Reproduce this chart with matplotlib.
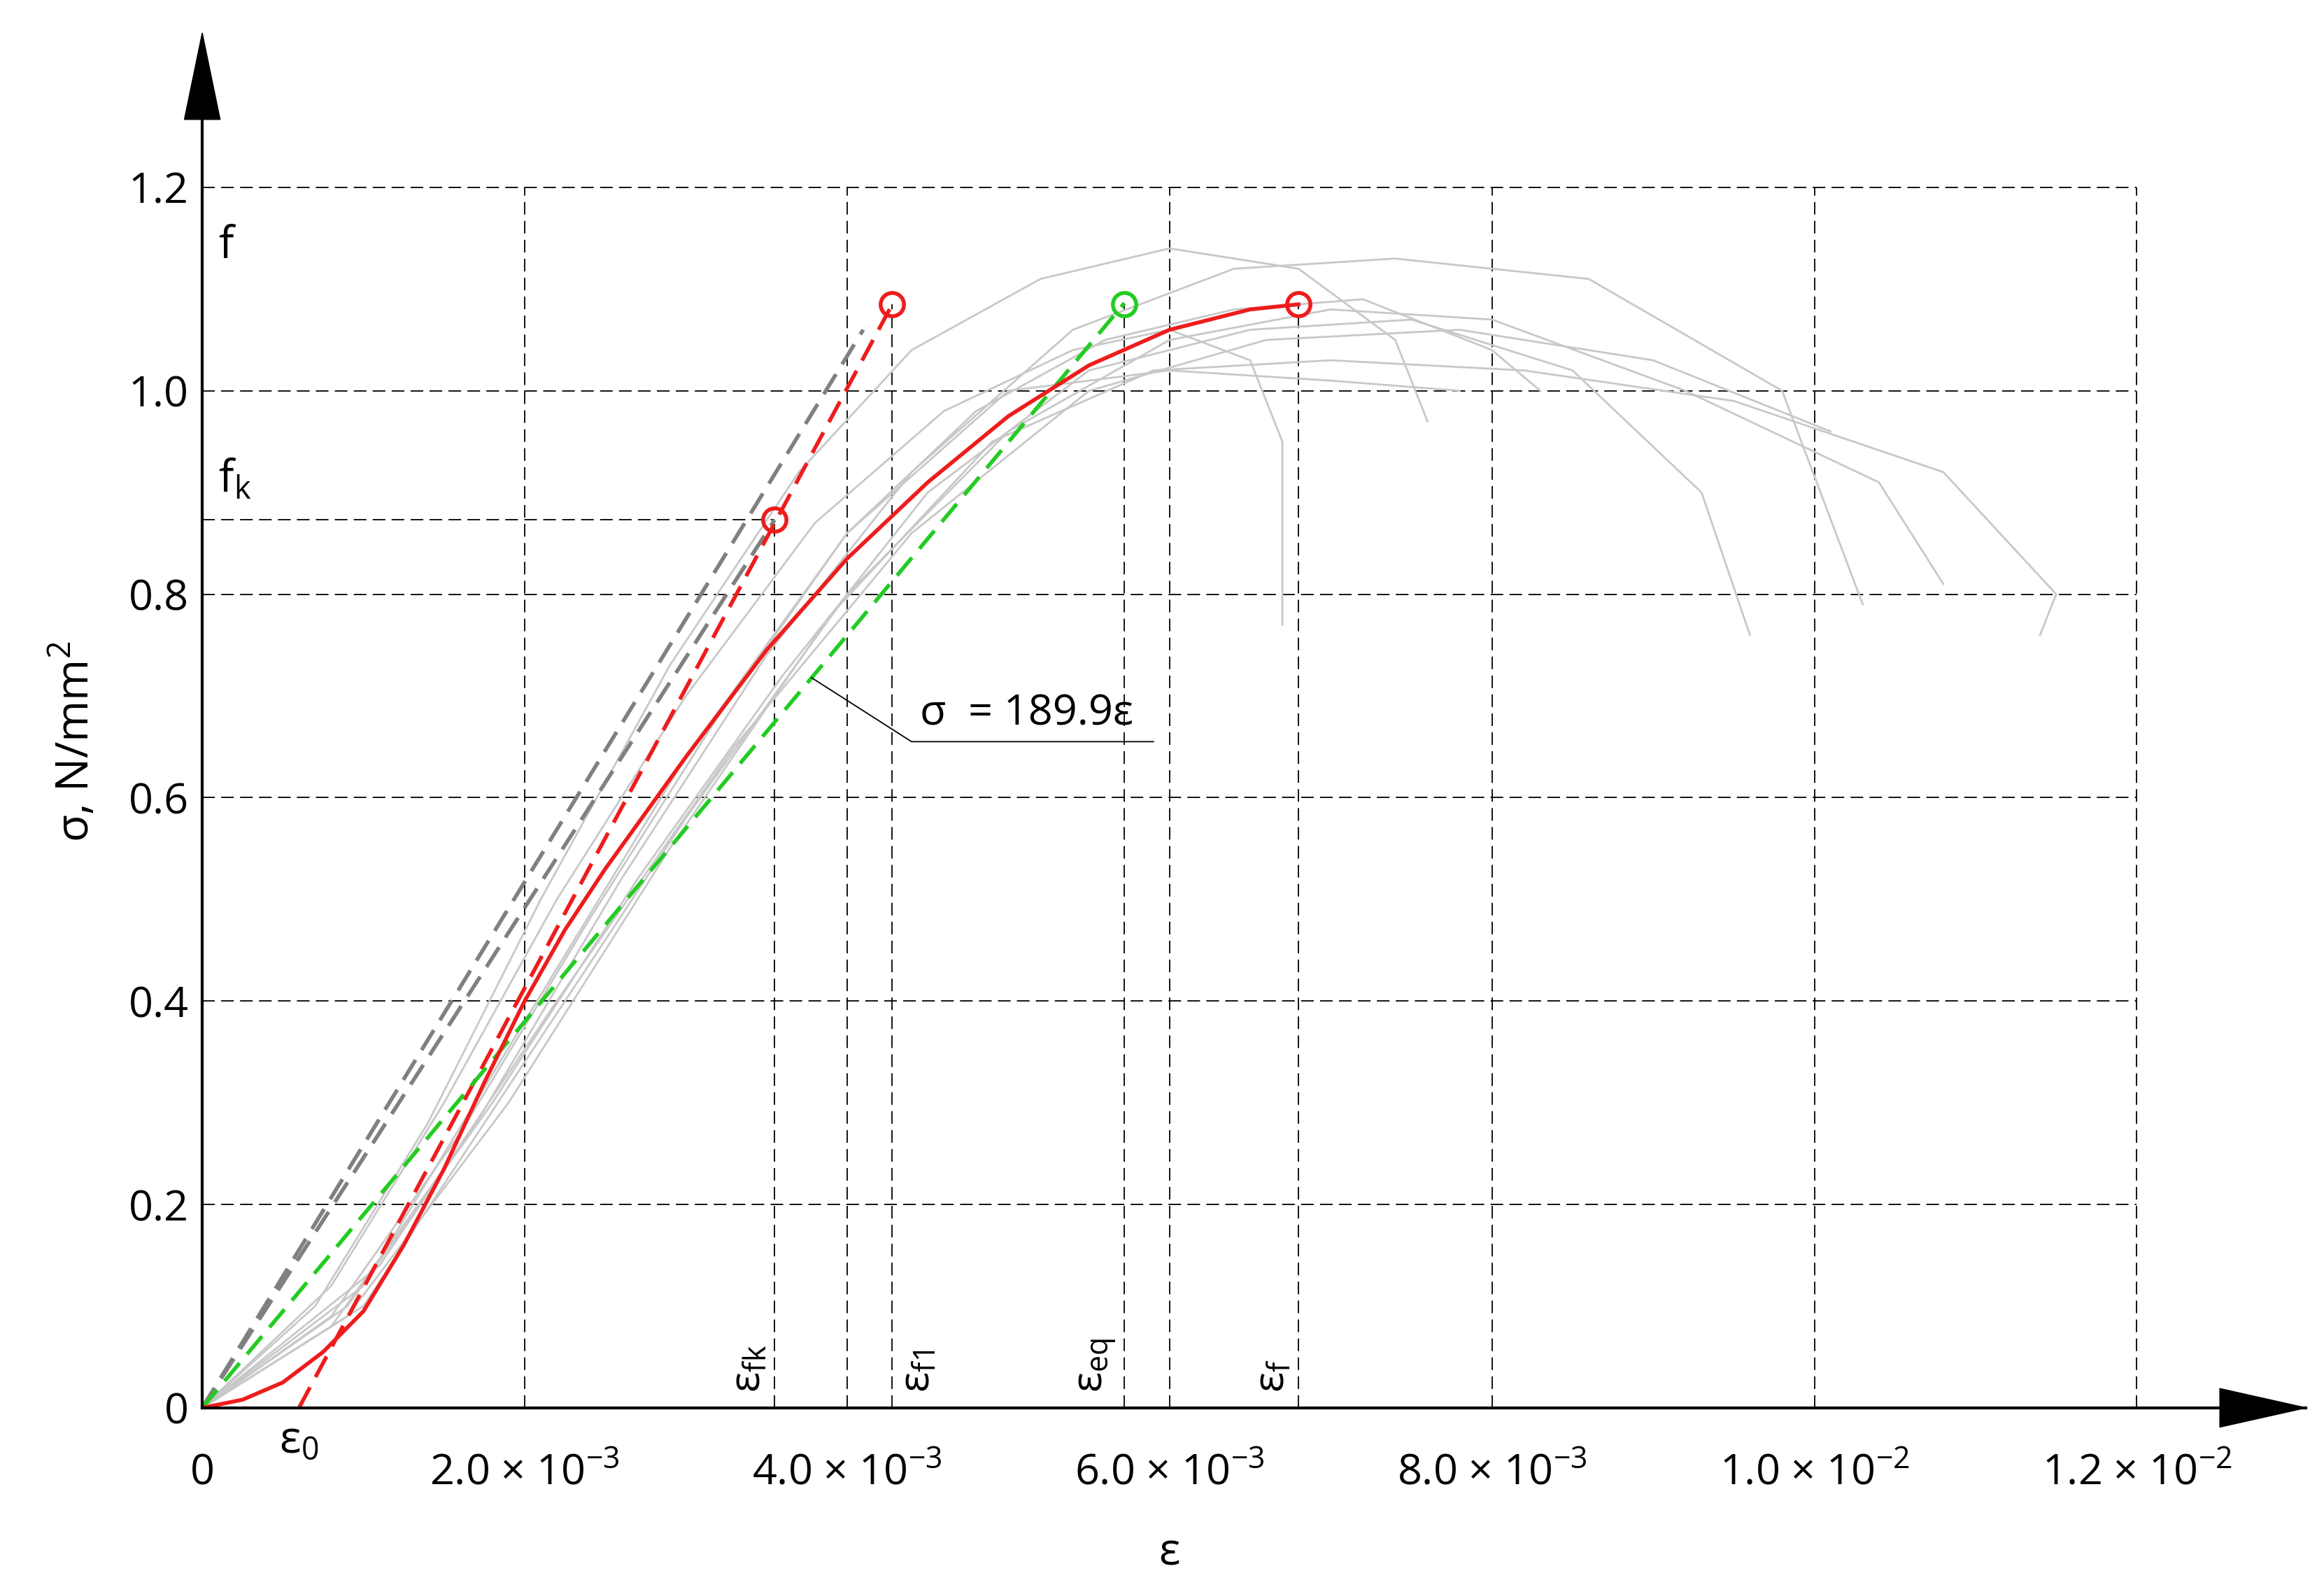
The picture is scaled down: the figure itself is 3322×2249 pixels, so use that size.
import matplotlib
matplotlib.use("Agg")
import matplotlib.pyplot as plt
from matplotlib.patches import Polygon
import numpy as np

plt.rcParams['font.family'] = ['Open Sans', 'DejaVu Sans']
plt.rcParams['mathtext.fontset'] = 'custom'
plt.rcParams['mathtext.rm'] = 'Open Sans'

xticks = [0, 0.002, 0.004, 0.006, 0.008, 0.010, 0.012]
xticklabels = ['0', r'2.0 $\times$ 10$^{-3}$', r'4.0 $\times$ 10$^{-3}$', r'6.0 $\times$ 10$^{-3}$',
               r'8.0 $\times$ 10$^{-3}$', r'1.0 $\times$ 10$^{-2}$', r'1.2 $\times$ 10$^{-2}$']
yticks = [0, 0.2, 0.4, 0.6, 0.8, 1.0, 1.2]
yticklabels = ['0', '0.2', '0.4', '0.6', '0.8', '1.0', '1.2']

# gray test curves (strain, stress)
g1x = [0, 0.0008, 0.0015, 0.0022, 0.0030, 0.0038, 0.0046, 0.0054, 0.0060, 0.0065, 0.0067, 0.0067]
g1y = [0, 0.12, 0.30, 0.50, 0.70, 0.87, 0.98, 1.04, 1.06, 1.03, 0.95, 0.77]
g2x = [0, 0.0007, 0.0014, 0.0021, 0.0029, 0.0037, 0.0044, 0.0052, 0.0060, 0.0068, 0.0074, 0.0076]
g2y = [0, 0.10, 0.28, 0.50, 0.73, 0.92, 1.04, 1.11, 1.14, 1.12, 1.05, 0.97]
g3x = [0, 0.0008, 0.0016, 0.0024, 0.0032, 0.0040, 0.0048, 0.0056, 0.0064, 0.0072, 0.0080, 0.0083]
g3y = [0, 0.09, 0.27, 0.48, 0.68, 0.86, 0.98, 1.05, 1.08, 1.09, 1.04, 1.00]
g4x = [0, 0.0009, 0.0018, 0.0027, 0.0036, 0.0045, 0.0055, 0.0065, 0.0075, 0.0085, 0.0093, 0.0096]
g4y = [0, 0.10, 0.30, 0.52, 0.72, 0.90, 1.02, 1.06, 1.07, 1.02, 0.90, 0.76]
g5x = [0, 0.0008, 0.0017, 0.0026, 0.0035, 0.0044, 0.0054, 0.0064, 0.0074, 0.0086, 0.0098, 0.0103]
g5y = [0, 0.08, 0.28, 0.52, 0.74, 0.92, 1.06, 1.12, 1.13, 1.11, 1.00, 0.79]
g6x = [0, 0.0010, 0.0020, 0.0030, 0.0040, 0.0050, 0.0060, 0.0070, 0.0080, 0.0092, 0.0104, 0.0108]
g6y = [0, 0.10, 0.34, 0.58, 0.80, 0.96, 1.05, 1.08, 1.07, 1.00, 0.91, 0.81]
g7x = [0, 0.0009, 0.0019, 0.0029, 0.0039, 0.0049, 0.0059, 0.0070, 0.0082, 0.0095, 0.0108, 0.0115, 0.0114]
g7y = [0, 0.09, 0.30, 0.55, 0.78, 0.95, 1.02, 1.03, 1.02, 0.99, 0.92, 0.80, 0.76]
g8x = [0, 0.0010, 0.0020, 0.0030, 0.0040, 0.0050, 0.0060, 0.0070, 0.0078]
g8y = [0, 0.12, 0.38, 0.64, 0.86, 1.00, 1.02, 1.01, 1.00]
g9x = [0, 0.0011, 0.0022, 0.0033, 0.0044, 0.0055, 0.0066, 0.0078, 0.0090, 0.0101]
g9y = [0, 0.14, 0.40, 0.65, 0.86, 1.00, 1.05, 1.06, 1.03, 0.96]
gray_x = [g1x, g2x, g3x, g4x, g5x, g6x, g7x, g8x, g9x]
gray_y = [g1y, g2y, g3y, g4y, g5y, g6y, g7y, g8y, g9y]

red_x = [0, 0.00025, 0.0005, 0.00075, 0.0010, 0.00125, 0.0015, 0.00175, 0.0020, 0.00225, 0.0025,
         0.00275, 0.0030, 0.0035, 0.0040, 0.0045, 0.0050, 0.0055, 0.0060, 0.0065, 0.0068]
red_y = [0, 0.008, 0.025, 0.055, 0.095, 0.16, 0.235, 0.32, 0.40, 0.47, 0.53,
         0.585, 0.64, 0.745, 0.835, 0.91, 0.975, 1.025, 1.06, 1.08, 1.085]

f = 1.085
fk = 0.873
eps0 = 0.0006
eps_fk = 0.00355
eps_f1 = 0.00428
eps_eq = 0.00572
eps_f = 0.0068
E_eq = 189.9

fig = plt.figure(figsize=(33.23, 22.49), dpi=100)
ax = fig.add_axes([0.087, 0.105, 0.905, 0.847])
ax.set_xlim(0, 0.01305)
ax.set_ylim(0, 1.31)
for s in ['top', 'right']:
    ax.spines[s].set_visible(False)
for s in ['left', 'bottom']:
    ax.spines[s].set_linewidth(3)

dash = (0, (10, 5))
for x in xticks[1:]:
    ax.plot([x, x], [0, 1.2], color='black', lw=1.3, linestyle=dash)
for y in yticks[1:]:
    ax.plot([0, 0.012], [y, y], color='black', lw=1.3, linestyle=dash)
for x, y in [(eps_fk, fk), (eps_f1, f), (eps_eq, f), (eps_f, f)]:
    ax.plot([x, x], [0, y], color='black', lw=1.3, linestyle=dash)
ax.plot([0, eps_fk], [fk, fk], color='black', lw=1.3, linestyle=dash)

for gx, gy in zip(gray_x, gray_y):
    ax.plot(gx, gy, color='#c8c8c8', lw=2)

ax.plot([0, eps_fk], [0, fk], color='#808080', lw=4, linestyle=(0, (6, 3)))
ax.plot([0, 0.0041], [0, 1.06], color='#808080', lw=4, linestyle=(0, (6, 3)))
ax.plot([eps0, eps_f1], [0, f], color='#ee1c1c', lw=4, linestyle=(0, (6, 3)))
ax.plot([0, eps_eq], [0, E_eq * eps_eq], color='#22cc22', lw=4, linestyle=(0, (6, 3)))
ax.plot(red_x, red_y, color='#ee1c1c', lw=4)

ax.plot([eps_fk, eps_f1, eps_f], [fk, f, f], 'o', ms=24, mfc='none', mec='#ee1c1c', mew=4)
ax.plot([eps_eq], [f], 'o', ms=24, mfc='none', mec='#22cc22', mew=4)

ax.set_xticks(xticks)
ax.set_xticklabels(xticklabels, fontsize=44)
ax.set_yticks(yticks)
ax.set_yticklabels(yticklabels, fontsize=44)
ax.tick_params(axis='y', length=0, pad=14)
ax.tick_params(axis='x', length=0, pad=46)
ax.set_xlabel('ε', fontsize=46)
ax.xaxis.set_label_coords(0.006 / 0.01305, -0.092)
ax.set_ylabel('σ, N/mm$^2$', fontsize=46, labelpad=30)

# arrow heads
ax.add_patch(Polygon([[1.0, 0], [0.959, 0.0145], [0.959, -0.0145]], closed=True,
                     transform=ax.transAxes, color='black', clip_on=False))
ax.add_patch(Polygon([[0, 1.032], [-0.0085, 0.967], [0.0085, 0.967]], closed=True,
                     transform=ax.transAxes, color='black', clip_on=False))

ax.text(0.0001, 1.12, 'f', fontsize=46, ha='left', va='bottom')
ax.text(0.0001, 0.89, 'f$_\\mathregular{k}$', fontsize=46, ha='left', va='bottom')
ax.text(eps0, -0.01, 'ε$_\\mathregular{0}$', fontsize=46, ha='center', va='top')
for x, lab, ha in [(eps_fk, 'ε$_\\mathregular{fk}$', 'right'), (eps_f1, 'ε$_\\mathregular{f1}$', 'left'),
                   (eps_eq, 'ε$_\\mathregular{eq}$', 'right'), (eps_f, 'ε$_\\mathregular{f}$', 'right')]:
    dx = -0.00003 if ha == 'right' else 0.00003
    ax.text(x + dx, 0.015, lab, fontsize=44, rotation=90, ha=ha, va='bottom')

ax.plot([0.00378, 0.00440, 0.00590], [E_eq * 0.00378, 0.655, 0.655], color='black', lw=1.3)
ax.text(0.00445, 0.662, 'σ  = 189.9ε', fontsize=44, ha='left', va='bottom')

fig.savefig('out.png', dpi=100)
